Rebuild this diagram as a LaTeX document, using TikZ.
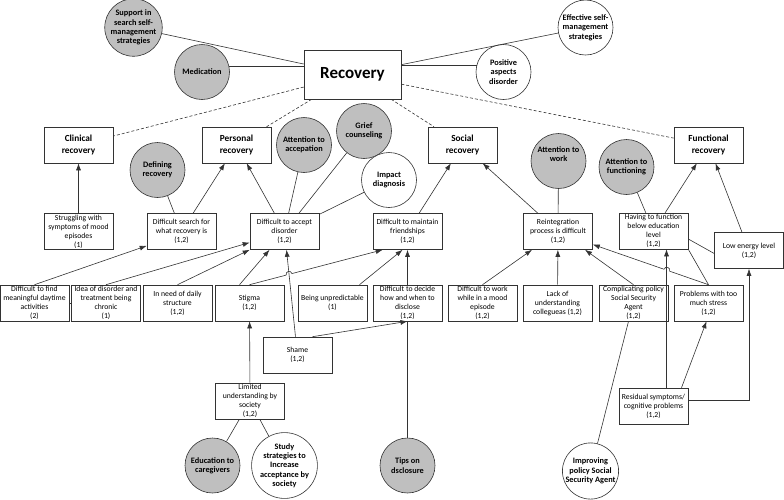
\documentclass[tikz,border=0pt]{standalone}
\usepackage{fontspec}
\setmainfont{Carlito}
\usepackage{tikz}
\usetikzlibrary{shapes.geometric, arrows, arrows.meta, positioning, calc}
\tikzstyle{boite} = [rectangle, minimum width = 69pt, minimum height = 36pt, inner sep = 1pt, text centered, align = center, draw = black!80, line width = 0.6pt, fill = white, font = \fontsize{7.7}{9}\selectfont]
\tikzstyle{titre} = [boite, font = \fontsize{9.3}{12}\selectfont\bfseries]
\tikzstyle{bulle} = [circle, minimum size = 55pt, inner sep = 0pt, align = center, draw = black!80, line width = 0.6pt, fill = white, font = \fontsize{8.3}{9.3}\selectfont\bfseries]
\tikzstyle{bullegris} = [bulle, fill = black!25]
\tikzstyle{lien} = [draw = black!80, line width = 0.6pt]
\tikzstyle{fleche} = [lien, -{Latex[length = 7pt, width = 5pt]}]
\tikzstyle{tirets} = [lien, dash pattern = on 3pt off 2pt]

\begin{document}
\begin{tikzpicture}
\useasboundingbox (0pt,0pt) rectangle (784pt,-499pt);
\node (rec) [titre, minimum width = 97pt, minimum height = 49pt, font = \fontsize{17}{20}\selectfont\bfseries, xshift = 352.5pt, yshift = -74.5pt] {Recovery};
\node (supp) [bullegris, xshift = 133.5pt, yshift = -27.5pt] {Support in\\search self-\\management\\strategies};
\node (med) [bullegris, xshift = 202pt, yshift = -72pt] {Medication};
\node (eff) [bulle, xshift = 585.5pt, yshift = -27.5pt] {Effective self-\\management\\strategies};
\node (pos) [bulle, xshift = 503.5pt, yshift = -72pt] {Positive\\aspects\\disorder};
% types of recovery
\node (clin) [titre, xshift = 78.5pt, yshift = -145pt] {Clinical\\recovery};
\node (pers) [titre, xshift = 236.5pt, yshift = -145pt] {Personal\\recovery};
\node (soc) [titre, xshift = 462.5pt, yshift = -145pt] {Social\\recovery};
\node (func) [titre, xshift = 708.5pt, yshift = -145pt] {Functional\\recovery};
\node (def) [bullegris, xshift = 157.5pt, yshift = -170pt] {Defining\\recovery};
\node (attacc) [bullegris, xshift = 304pt, yshift = -145pt] {Attention to\\accepation};
\node (grief) [bullegris, xshift = 364pt, yshift = -131pt] {Grief\\counseling};
\node (impact) [bulle, xshift = 389pt, yshift = -180pt] {Impact\\diagnosis};
\node (attwork) [bullegris, xshift = 558.5pt, yshift = -161pt] {Attention to\\work\\[4pt]};
\node (attfunc) [bullegris, xshift = 626.5pt, yshift = -167pt] {Attention to\\functioning};
% first level
\node (strug) [boite, xshift = 78.5pt, yshift = -231.5pt] {Struggling with\\symptoms of mood\\episodes\\(1)};
\node (search) [boite, xshift = 181.5pt, yshift = -231.5pt] {Difficult search for\\what recovery is\\(1,2)};
\node (accept) [boite, xshift = 284.5pt, yshift = -231.5pt] {Difficult to accept\\disorder\\(1,2)};
\node (friend) [boite, xshift = 407.5pt, yshift = -231.5pt] {Difficult to maintain\\friendships\\(1,2)};
\node (reint) [boite, xshift = 558pt, yshift = -231.5pt] {Reintegration\\process is difficult\\(1,2)};
\node (having) [boite, xshift = 653.5pt, yshift = -231pt] {Having to function\\below education\\level\\(1,2)};
\node (low) [boite, xshift = 749pt, yshift = -250.5pt] {Low energy level\\(1,2)};
% second level
\node (find) [boite, xshift = 34.5pt, yshift = -303pt] {Difficult to find\\meaningful daytime\\activities\\(2)};
\node (idea) [boite, xshift = 106pt, yshift = -303pt] {Idea of disorder and\\treatment being\\chronic\\(1)};
\node (daily) [boite, xshift = 177.5pt, yshift = -303pt] {In need of daily\\structure\\(1,2)};
\node (stigma) [boite, xshift = 249.5pt, yshift = -303pt] {Stigma\\(1,2)};
\node (unpred) [boite, xshift = 332.5pt, yshift = -303pt] {Being unpredictable\\(1)};
\node (decide) [boite, xshift = 407.5pt, yshift = -303pt] {Difficult to decide\\how and when to\\disclose\\(1,2)};
\node (work) [boite, xshift = 482.5pt, yshift = -303pt] {Difficult to work\\while in a mood\\episode\\(1,2)};
\node (lack) [boite, xshift = 557.5pt, yshift = -303pt] {Lack of\\understanding\\collegueas (1,2)};
\node (compl) [boite, xshift = 633.5pt, yshift = -303pt] {Complicating policy\\Social Security\\Agent\\(1,2)};
\node (stress) [boite, xshift = 708.5pt, yshift = -303pt] {Problems with too\\much stress\\(1,2)};
\node (shame) [boite, xshift = 297.5pt, yshift = -355pt] {Shame\\(1,2)};
\node (limit) [boite, xshift = 250pt, yshift = -401pt] {Limited\\understanding by\\society\\(1,2)};
\node (resid) [boite, xshift = 653.5pt, yshift = -406pt] {Residual symptoms/\\cognitive problems\\(1,2)};
\node (edu) [bullegris, xshift = 212.5pt, yshift = -465.5pt] {Education to\\caregivers};
\node (study) [bulle, xshift = 284.5pt, yshift = -465.5pt] {Study\\strategies to\\Increase\\acceptance by\\society};
\node (tips) [bullegris, xshift = 407.5pt, yshift = -465.5pt] {Tips on\\dsclosure};
\node (impr) [bulle, xshift = 590.5pt, yshift = -471pt] {Improving\\policy Social\\Security Agent};
% around recovery
\draw[lien] (supp) -- (rec);
\draw[lien] (med.11) -- (med.11 -| rec.west);
\draw[lien] (eff) -- (rec);
\draw[lien] (pos.166) -- (pos.166 -| rec.east);
\draw[tirets] (rec) -- (clin);
\draw[tirets] (rec) -- (pers);
\draw[tirets] (rec) -- (soc);
\draw[tirets] (rec) -- (func);
% first level
\draw[fleche] (strug) -- (clin);
\draw[fleche] (search) -- (pers);
\draw[lien] (def) -- (search);
\draw[fleche] (accept) -- (pers);
\draw[lien] (attacc) -- (accept);
\draw[lien] (grief) -- (accept);
\draw[lien] (impact) -- (accept);
\draw[fleche] (friend) -- (soc);
\draw[fleche] (reint) -- (soc);
\draw[lien] (attwork) -- (reint);
\draw[fleche] (having) -- (func);
\draw[lien] (attfunc) -- (having);
\draw[fleche] (low) -- (func);
\draw[lien] ([yshift = -8pt]having.east) -- ([yshift = -3pt]low.west);
% second level
\draw[lien] (find) -- (idea);
\draw[fleche] (find.north) -- ([yshift = 4pt]search.south west);
\draw[fleche] (idea.north) -- ([yshift = -11pt]accept.west);
\draw[fleche] (daily.north) -- (accept.south west);
\draw[fleche] ([xshift = -10pt]stigma.north) -- ([xshift = -15pt]accept.south);
\draw[fleche] ([xshift = -2pt]shame.north) -- ([xshift = 2pt]accept.south);
\coordinate (saut1) at ($(stigma.north)!0.297!([xshift = 10pt]friend.south west)$);
\draw[fleche] (stigma.north) -- ([shift = {(195:3pt)}]saut1) arc[start angle = 195, end angle = 15, radius = 3pt] -- ([xshift = 10pt]friend.south west);
\draw[fleche] ([xshift = 27pt]unpred.north) -- ([xshift = -5pt]friend.south);
\draw[fleche] (decide) -- (friend);
\draw[lien] (tips) -- (decide);
\draw[fleche] ([xshift = 15pt]shame.north) -- (decide.south);
\draw[fleche] (work.north) -- ([xshift = -26pt]reint.south);
\draw[fleche] (lack) -- (reint);
\draw[fleche] (compl.north) -- ([xshift = 27pt]reint.south);
\coordinate (saut2) at ($(stress.north)!0.36!([yshift = -13pt]reint.east)$);
\draw[fleche] (stress.north) -- ([shift = {(-19:3pt)}]saut2) arc[start angle = -19, end angle = 161, radius = 3pt] -- ([yshift = -13pt]reint.east);
\draw[lien] (having.south east) -- (stress.north);
\draw[fleche] ([xshift = 13pt]resid.north) -- ([xshift = 13pt]having.south);
\draw[fleche] ([xshift = 28pt]resid.north) -- ([xshift = -2pt]stress.south);
\draw[fleche] ([yshift = 6pt]resid.east) -| (low.south);
\draw[lien] ([xshift = -5pt]compl.south) -- (impr);
\draw[fleche] (limit) -- (stigma);
\draw[lien] (limit) -- (edu);
\draw[lien] (limit) -- (study);
\end{tikzpicture}
\end{document}
